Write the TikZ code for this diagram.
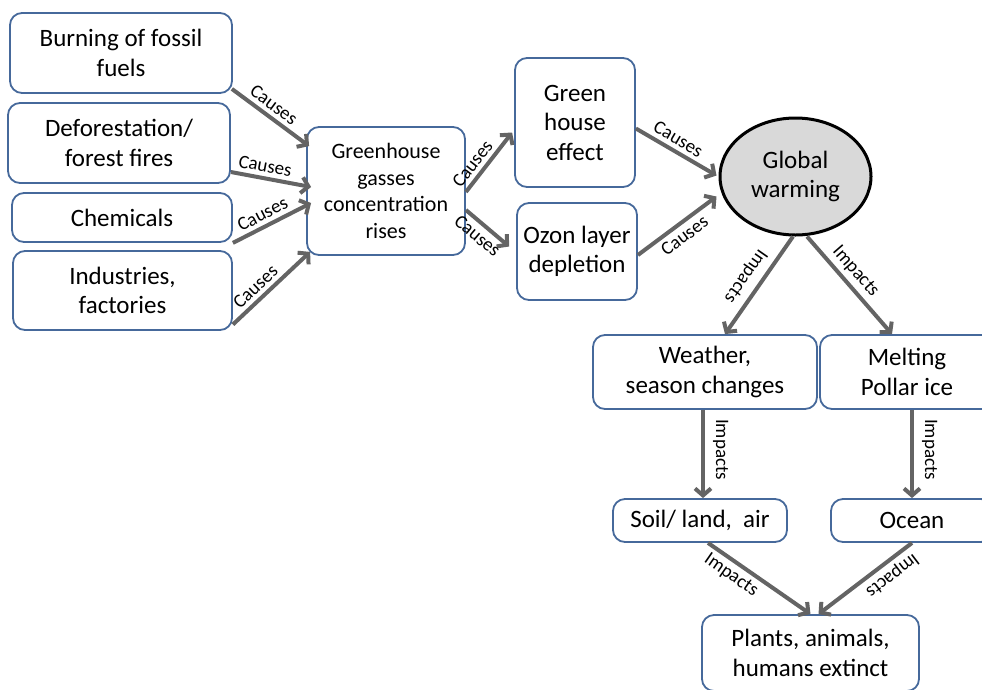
\documentclass[tikz,border=0pt]{standalone}
\usepackage{fontspec}
\setmainfont{Carlito}
\usepackage{xcolor}
\usetikzlibrary{shapes,arrows.meta,positioning,calc}

\definecolor{boxblue}{RGB}{70,105,155}
\definecolor{arrgray}{RGB}{100,100,100}
\definecolor{gwfill}{RGB}{217,217,217}

\begin{document}
\begin{tikzpicture}[x=1pt,y=1pt,
  box/.style={draw=boxblue, line width=1.8pt, rounded corners=12pt, fill=white, align=center,
    inner sep=0pt, font=\fontsize{25}{29.5}\selectfont},
  arr/.style={draw=arrgray, line width=4pt, -{Straight Barb[length=7pt,width=16pt]}},
  lbl/.style={font=\fontsize{19}{21}\selectfont, sloped, allow upside down, inner sep=4pt}]
  \useasboundingbox (0,0) rectangle (982,-689);

  % Sources
  \node[box, minimum width=222, minimum height=80] (burn) at (121,-53) {Burning of fossil\\fuels};
  \node[box, minimum width=222, minimum height=80] (defo) at (119,-143) {Deforestation/\\forest fires};
  \node[box, minimum width=220, minimum height=49] (chem) at (122,-217.5) {Chemicals};
  \node[box, minimum width=219, minimum height=79] (indu) at (122.5,-290.5) {Industries,\\factories};

  % Greenhouse gasses
  \node[box, minimum width=158, minimum height=128, font=\fontsize{22}{26.5}\selectfont] (ghg) at (386,-191)
    {Greenhouse\\gasses\\concentration\\rises};

  % Effects
  \node[box, minimum width=120, minimum height=129] (ghe) at (575,-122.5) {Green\\house\\effect};
  \node[box, minimum width=120, minimum height=97] (ozon) at (577,-251.5) {Ozon layer\\depletion};

  % Global warming
  \node[ellipse, draw=black, line width=3pt, fill=gwfill, minimum width=151, minimum height=117,
    inner sep=0pt, align=center, font=\fontsize{25}{29.5}\selectfont] (gw) at (795.5,-176.5) {Global\\warming};

  % Impacts
  \node[box, minimum width=224, minimum height=74] (weather) at (705,-372) {Weather,\\season changes};
  \node[box, minimum width=174, minimum height=74] (melt) at (907,-372) {Melting\\Pollar ice};
  \node[box, minimum width=174, minimum height=43] (soil) at (700,-520.5) {Soil/ land,~~air};
  \node[box, minimum width=162, minimum height=43] (ocean) at (912,-520.5) {Ocean};
  \node[box, minimum width=217, minimum height=76] (plants) at (810.5,-653) {Plants, animals,\\humans extinct};

  % Causes arrows
  \draw[arr] ($(burn.south east)+(-1,5)$) -- ($(ghg.north west)+(3,-20)$)
    node[lbl, pos=0.45, above] {Causes};
  \draw[arr] ($(defo.east)+(0,-29)$) -- ($(ghg.west)+(5,4)$)
    node[lbl, pos=0.4, above] {Causes};
  \draw[arr] (chem.south east) -- ($(ghg.west)+(5,-12)$)
    node[lbl, pos=0.45, above] {Causes};
  \draw[arr] ($(indu.east)+(0,-34)$) -- ($(ghg.south west)+(4,4)$)
    node[lbl, pos=0.4, above] {Causes};
  \draw[arr] ($(ghg.east)+(0,-1)$) -- ($(ghe.west)+(-2,-10)$)
    node[lbl, pos=0.35, above] {Causes};
  \draw[arr] ($(ghg.east)+(0,-19)$) -- ($(ozon.west)+(-7,5)$)
    node[lbl, pos=0.45, below] {Causes};
  \draw[arr] ($(ghe.east)+(0,-6)$) -- ($(gw.west)+(-2,1)$)
    node[lbl, pos=0.45, above] {Causes};
  \draw[arr] ($(ozon.east)+(0,-3.5)$) -- ($(gw.west)+(-2,-20)$)
    node[lbl, pos=0.5, below] {Causes};

  % Impacts arrows
  \draw[arr] ($(gw.south)+(-2.5,0)$) -- ($(weather.north)+(20,0)$)
    node[lbl, pos=0.5, below, inner sep=7pt] {Impacts};
  \draw[arr] ($(gw.south)+(11.5,0)$) -- ($(melt.north)+(-15,0)$)
    node[lbl, pos=0.45, above] {Impacts};
  \draw[arr] ($(weather.south)+(-2,0)$) -- ($(soil.north)+(3,0)$)
    node[lbl, pos=0.45, above, inner sep=8pt] {Impacts};
  \draw[arr] (ocean.north |- melt.south) -- (ocean.north)
    node[lbl, pos=0.45, above, inner sep=8pt] {Impacts};
  \draw[arr] ($(soil.south)+(8,0)$) -- (plants.north)
    node[lbl, pos=0.3, below] {Impacts};
  \draw[arr] (ocean.south) -- ($(plants.north)+(8,0)$)
    node[lbl, pos=0.3, above] {Impacts};
\end{tikzpicture}
\end{document}
